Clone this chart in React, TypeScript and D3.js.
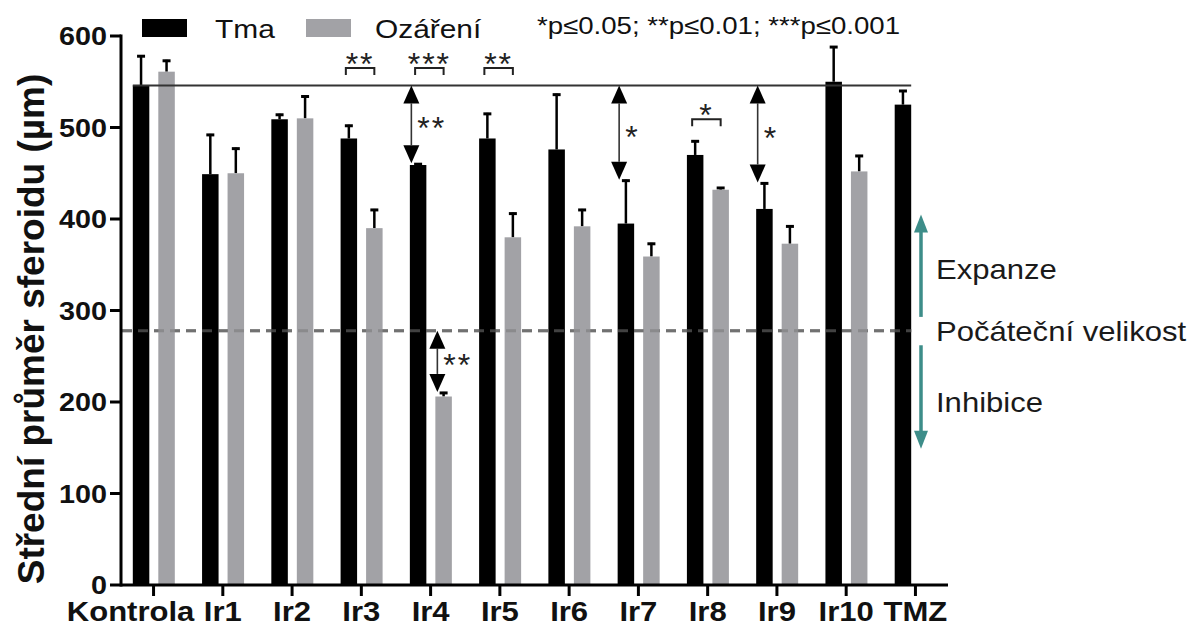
import React from 'react'
import * as d3 from 'd3'

const categories = ['Kontrola', 'Ir1', 'Ir2', 'Ir3', 'Ir4', 'Ir5', 'Ir6', 'Ir7', 'Ir8', 'Ir9', 'Ir10', 'TMZ']
const darkMean = [546, 449, 509, 488, 459, 488, 476, 395, 470, 411, 550, 525]
const darkSem = [33, 44, 6, 15, 2, 28, 61, 48, 16, 29, 39, 16]
const lightMean = [561, 450, 510, 390, 206, 380, 392, 359, 432, 373, 452, null]
const lightSem = [13, 28, 25, 21, 5, 27, 19, 15, 3, 20, 18, null]
const yTicks = [0, 100, 200, 300, 400, 500, 600]

const controlLevel = 546
const initialSize = 278

// significance brackets between dark and light bar of one group
const bracketCats = ['Ir3', 'Ir4', 'Ir5', 'Ir8']
const bracketStars = ['**', '***', '**', '*']
const bracketLevels = [565, 565, 565, 509]

// arrows from control level down to dark bar
const arrowCats = ['Ir4', 'Ir7', 'Ir9']
const arrowStars = ['**', '*', '*']

const FONT = '"Liberation Sans", Arial, Helvetica, sans-serif'
const SX = 1.15 // the source picture is a bit stretched sideways

export default function App() {
  const svgRef = React.useRef<SVGSVGElement>(null)
  const width = 1204
  const height = 632

  React.useEffect(() => {
    const svg = d3.select(svgRef.current)
    svg.selectAll('*').remove()

    const x = d3.scalePoint<string>().domain(categories).range([121, 948]).padding(0.47)
    const y = d3.scaleLinear().domain([0, 600]).range([585, 36])
    const barW = 16.5
    const darkX = (c: string) => (x(c) as number) - 12.5 - barW / 2
    const lightX = (c: string) => (x(c) as number) + 13 - barW / 2

    const stretched = (g, px, py, txt, size, weight, anchor, fill = '#111') =>
      g.append('text')
        .attr('transform', `translate(${px},${py}) scale(${SX},1)`)
        .attr('text-anchor', anchor)
        .style('font-family', FONT)
        .style('font-size', size + 'px')
        .style('font-weight', weight)
        .attr('fill', fill)
        .text(txt)

    // reference lines
    svg.append('line')
      .attr('x1', 122).attr('x2', darkX('TMZ') + barW)
      .attr('y1', y(initialSize)).attr('y2', y(initialSize))
      .attr('stroke', '#6b6b6b').attr('stroke-width', 3)
      .attr('stroke-dasharray', '10 6')

    // bars
    const data = categories.map((c, i) => ({ c, dm: darkMean[i], ds: darkSem[i], lm: lightMean[i], ls: lightSem[i] }))

    const errBar = (g, bx, top, tip) => {
      g.append('line')
        .attr('x1', bx).attr('x2', bx).attr('y1', y(top)).attr('y2', y(tip))
        .attr('stroke', '#000').attr('stroke-width', 2.5)
      g.append('line')
        .attr('x1', bx - 4).attr('x2', bx + 4).attr('y1', y(tip) + 1).attr('y2', y(tip) + 1)
        .attr('stroke', '#000').attr('stroke-width', 3)
    }

    const bars = svg.append('g')
    data.forEach(d => {
      errBar(bars, darkX(d.c) + barW / 2, d.dm, d.dm + d.ds)
      bars.append('rect')
        .attr('x', darkX(d.c)).attr('width', barW)
        .attr('y', y(d.dm)).attr('height', y(0) - y(d.dm))
        .attr('fill', '#000')
      if (d.lm != null) {
        errBar(bars, lightX(d.c) + barW / 2, d.lm, d.lm + d.ls)
        bars.append('rect')
          .attr('x', lightX(d.c)).attr('width', barW)
          .attr('y', y(d.lm)).attr('height', y(0) - y(d.lm))
          .attr('fill', '#a2a2a6')
      }
    })

    // dashes drawn over the bars a second time, lighter
    svg.append('line')
      .attr('x1', 122).attr('x2', darkX('TMZ') + barW)
      .attr('y1', y(initialSize)).attr('y2', y(initialSize))
      .attr('stroke', '#777').attr('stroke-width', 3).attr('opacity', 0.55)
      .attr('stroke-dasharray', '10 6')

    svg.append('line')
      .attr('x1', darkX('Kontrola')).attr('x2', darkX('TMZ') + barW)
      .attr('y1', y(controlLevel)).attr('y2', y(controlLevel))
      .attr('stroke', '#333').attr('stroke-width', 2)

    // axes
    const axes = svg.append('g').attr('stroke', '#000').attr('stroke-width', 3)
    axes.append('line').attr('x1', 121).attr('x2', 121).attr('y1', y(600) - 1.5).attr('y2', y(0) + 1.5)
    axes.append('line').attr('x1', 121).attr('x2', 948).attr('y1', y(0)).attr('y2', y(0))
    yTicks.forEach(t => {
      axes.append('line').attr('x1', 110).attr('x2', 121).attr('y1', y(t)).attr('y2', y(t))
      stretched(svg, 107, y(t) + 9, String(t), 25, 'bold', 'end')
    })
    categories.forEach(c => {
      axes.append('line').attr('x1', x(c)).attr('x2', x(c)).attr('y1', y(0)).attr('y2', y(0) + 11)
      const shift = c === 'Kontrola' ? -23 : 0
      stretched(svg, (x(c) as number) + shift, 621, c, 27, 'bold', 'middle')
    })

    svg.append('text')
      .attr('transform', `translate(44,329) rotate(-90)`)
      .attr('text-anchor', 'middle')
      .style('font-family', FONT)
      .style('font-size', '37px')
      .style('font-weight', 'bold')
      .attr('fill', '#111')
      .text('Střední průměr sferoidu (µm)')

    // significance brackets
    const ann = svg.append('g')
    bracketCats.forEach((c, i) => {
      const x1 = darkX(c) + barW / 2 - 3
      const x2 = lightX(c) + barW / 2
      const yy = y(bracketLevels[i])
      ann.append('path')
        .attr('d', `M${x1},${yy + 7}V${yy}H${x2}V${yy + 7}`)
        .attr('fill', 'none').attr('stroke', '#222').attr('stroke-width', 2)
      ann.append('text')
        .attr('x', (x1 + x2) / 2).attr('y', yy + 7)
        .attr('text-anchor', 'middle')
        .style('font-family', FONT).style('font-size', '32px')
        .style('letter-spacing', '2px')
        .attr('fill', '#222')
        .text(bracketStars[i])
    })

    const dblArrow = (ax, v1, v2, stars) => {
      const y1 = y(v1)
      const y2 = y(v2)
      const hw = 8
      const hh = 18
      ann.append('line').attr('x1', ax).attr('x2', ax).attr('y1', y1 + hh).attr('y2', y2 - hh)
        .attr('stroke', '#333').attr('stroke-width', 1.6)
      ann.append('path').attr('d', `M${ax},${y1}L${ax - hw},${y1 + hh}L${ax + hw},${y1 + hh}Z`).attr('fill', '#000')
      ann.append('path').attr('d', `M${ax},${y2}L${ax - hw},${y2 - hh}L${ax + hw},${y2 - hh}Z`).attr('fill', '#000')
      ann.append('text')
        .attr('x', ax + 6).attr('y', (y1 + y2) / 2 + 15)
        .style('font-family', FONT).style('font-size', '32px')
        .style('letter-spacing', '2px')
        .attr('fill', '#222')
        .text(stars)
    }

    arrowCats.forEach((c, i) => {
      const k = categories.indexOf(c)
      dblArrow(darkX(c) + 1.5, controlLevel, darkMean[k] + darkSem[k], arrowStars[i])
    })
    const k4 = categories.indexOf('Ir4')
    dblArrow(lightX('Ir4') + 2, initialSize, (lightMean[k4] as number) + (lightSem[k4] as number), '**')

    // legend
    const lg = svg.append('g')
    lg.append('rect').attr('x', 142).attr('y', 19).attr('width', 45).attr('height', 18).attr('fill', '#000')
    stretched(lg, 215, 38, 'Tma', 26, 'normal', 'start')
    lg.append('rect').attr('x', 306).attr('y', 19).attr('width', 45).attr('height', 18).attr('fill', '#a2a2a6')
    stretched(lg, 375, 38, 'Ozáření', 26, 'normal', 'start')
    stretched(lg, 537, 34, '*p≤0.05; **p≤0.01; ***p≤0.001', 24, 'normal', 'start')

    // expansion / inhibition side note
    const teal = '#3d8d89'
    const side = svg.append('g')
    const ax = 921
    side.append('line').attr('x1', ax).attr('x2', ax).attr('y1', y(293)).attr('y2', y(405) + 16)
      .attr('stroke', teal).attr('stroke-width', 3.5)
    side.append('path').attr('d', `M${ax},${y(405)}L${ax - 7},${y(405) + 18}L${ax + 7},${y(405) + 18}Z`).attr('fill', teal)
    side.append('line').attr('x1', ax).attr('x2', ax).attr('y1', y(262)).attr('y2', y(149) - 16)
      .attr('stroke', teal).attr('stroke-width', 3.5)
    side.append('path').attr('d', `M${ax},${y(149)}L${ax - 7},${y(149) - 18}L${ax + 7},${y(149) - 18}Z`).attr('fill', teal)
    stretched(side, 936, 279, 'Expanze', 27, 'normal', 'start', '#1a1a1a')
    stretched(side, 936, 341, 'Počáteční velikost', 27, 'normal', 'start', '#1a1a1a')
    stretched(side, 936, 412, 'Inhibice', 27, 'normal', 'start', '#1a1a1a')
  }, [])

  return (
    <svg ref={svgRef} width={width} height={height}
      style={{ position: 'absolute', left: 0, top: 0, background: '#fff' }} />
  )
}
